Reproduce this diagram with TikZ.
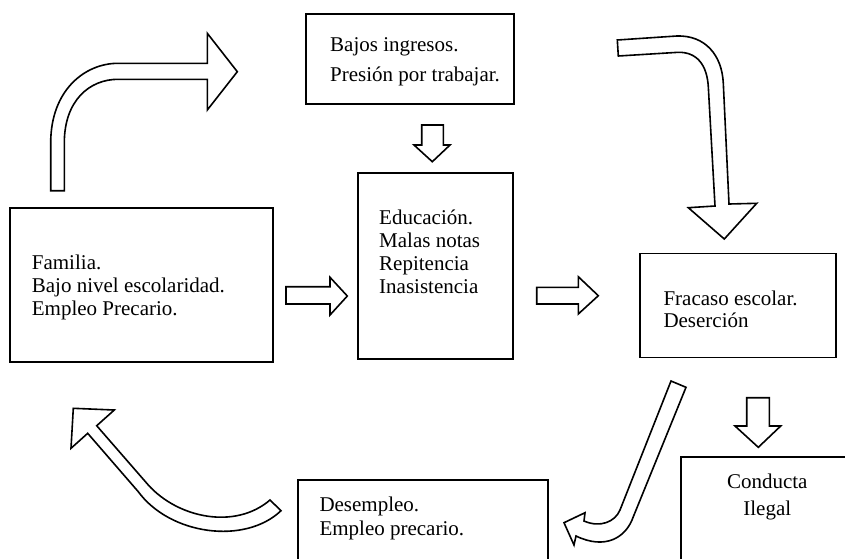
\documentclass[tikz,border=0pt]{standalone}
\usepackage{fontspec}
\setmainfont{Liberation Serif}
\begin{document}
\begin{tikzpicture}[x=1pt,y=-1pt,
  box/.style={draw, line width=1.9pt, rectangle, inner sep=0pt},
  txt/.style={anchor=base west, inner sep=0pt, font=\fontsize{21}{24}\selectfont},
  ctxt/.style={anchor=base, inner sep=0pt, font=\fontsize{21}{24}\selectfont},
  barrow/.style={draw, line width=1.6pt, fill=white, line join=miter, miter limit=10}]
\useasboundingbox (0,0) rectangle (845,558);
\clip (0,0) rectangle (845,558);
\fill[white] (0,0) rectangle (845,558);

% boxes
\node[box, minimum width=208pt, minimum height=90pt] (bajos) at (410,59) {};
\node[box, minimum width=155pt, minimum height=186pt] (educ) at (435.5,266) {};
\node[box, minimum width=262.7pt, minimum height=154pt] (fam) at (141.35,285.3) {};
\node[box, minimum width=196pt, minimum height=104pt] (frac) at (738,305.5) {};
\node[box, minimum width=250.3pt, minimum height=120pt] (desem) at (423.15,540) {};
\node[box, minimum width=179pt, minimum height=142.7pt] (cond) at (770.5,528.65) {};

% texts
\node[txt] (b1) at (330,51.7) {Bajos ingresos.};
\node[txt] (b2) at (330,81.7) {Presión por trabajar.};
\node[txt] (e1) at (379,224) {Educación.};
\node[txt] (e2) at (379,247) {Malas notas};
\node[txt] (e3) at (379,270) {Repitencia};
\node[txt] (e4) at (379,293.5) {Inasistencia};
\node[txt] (f1) at (31.7,269) {Familia.};
\node[txt] (f2) at (31.7,292.3) {Bajo nivel escolaridad.};
\node[txt] (f3) at (31.7,315.7) {Empleo Precario.};
\node[txt] (r1) at (663.3,305) {Fracaso escolar.};
\node[txt] (r2) at (663.3,327.3) {Deserción};
\node[txt] (d1) at (319.3,511.5) {Desempleo.};
\node[txt] (d2) at (319.3,535) {Empleo precario.};
\node[ctxt] (c1) at (767.3,488.3) {Conducta};
\node[ctxt] (c2) at (767.3,515) {Ilegal};

% curved arrow familia -> bajos
\draw[barrow] (50.7,190.7) -- (50.7,143) .. controls (50.7,90) and (85,63.3) .. (118,63.3)
  -- (207.3,63.3) -- (207.3,33.3) -- (237.3,71.7) -- (207.3,110) -- (207.3,79.3) -- (118,79.3)
  .. controls (90,79.3) and (64.3,100) .. (64.3,143) -- (64.3,190.7) -- cycle;

% curved arrow bajos -> fracaso
\draw[barrow] (617.3,40) -- (676.7,36) .. controls (705,35) and (722,55) .. (723.3,83.3)
  -- (729,204) -- (756.7,203.3) -- (724.3,239) -- (688.3,207.7) -- (715,206) -- (708.3,86.7)
  .. controls (707,65) and (697,52) .. (678.3,52.3) -- (618.3,56) -- cycle;

% small down arrow bajos -> educ
\draw[barrow] (421.7,125) -- (443.3,125) -- (443.3,145) -- (450,145) -- (432.3,161.7)
  -- (414,145) -- (421.7,145) -- cycle;

% right arrow fam -> educ
\draw[barrow] (286,286.7) -- (330,286.7) -- (330,277.3) -- (347.3,296) -- (330,315)
  -- (330,304) -- (286,304) -- cycle;

% right arrow educ -> frac
\draw[barrow] (536.7,287.3) -- (578.3,287.3) -- (578.3,276.7) -- (598.3,295.7) -- (578.3,314)
  -- (578.3,304) -- (536.7,304) -- cycle;

% down arrow frac -> cond
\draw[barrow] (746.7,397.7) -- (769.3,397.7) -- (769.3,426) -- (780.7,426) -- (758.3,447.3)
  -- (735,426) -- (746.7,426) -- cycle;

% hook arrow frac -> desem
\draw[barrow] (671,381) -- (686,387.3) -- (633.3,516.7)
  .. controls (626,538) and (605,550) .. (576,536)
  -- (574,545) -- (564,522.7) -- (585,512.7) -- (584,521)
  .. controls (600,528) and (615,522) .. (620,510) -- cycle;

% curved arrow desem -> fam
\draw[barrow] (73.3,408.3) -- (114.3,410) -- (96.7,425.7) -- (148.3,485)
  .. controls (178,518) and (235,530) .. (270,500)
  -- (281,510.7)
  .. controls (245,545) and (170,535) .. (138.3,491.7)
  -- (87.7,433.3) -- (71,448.3) -- cycle;
\end{tikzpicture}
\end{document}
